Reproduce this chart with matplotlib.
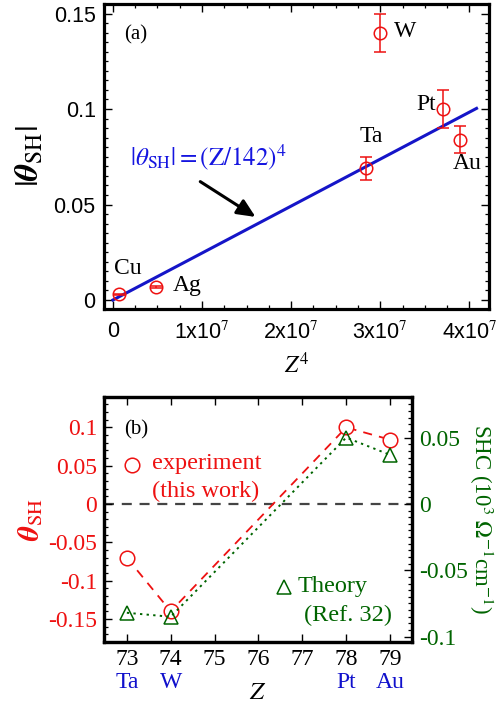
import matplotlib
matplotlib.use("Agg")
import matplotlib.pyplot as plt
from matplotlib.ticker import MultipleLocator, FixedLocator
import matplotlib.transforms as mtransforms

plt.rcParams['mathtext.fontset'] = 'stix'

# ---------------- data: panel (a) ----------------
elements_a = ['Cu', 'Ag', 'Ta', 'W', 'Pt', 'Au']
Z_a = [29, 47, 73, 74, 78, 79]
theta_a = [0.003, 0.0068, 0.069, 0.14, 0.10, 0.084]
err_a = [0.0004, 0.0005, 0.006, 0.01, 0.01, 0.007]
fit_Z4 = [0.0, 4.08e7]
fit_div = 142

# ---------------- data: panel (b) ----------------
Z_b = [73, 74, 78, 79]
elements_b = ['Ta', 'W', 'Pt', 'Au']
theta_exp = [-0.07, -0.14, 0.10, 0.084]
shc_theory = [-0.082, -0.085, 0.050, 0.037]
xticks_b = [73, 74, 75, 76, 77, 78, 79]

SERIF = ['Liberation Serif', 'DejaVu Serif']
SANS = ['Liberation Sans', 'DejaVu Sans']
RED = '#ee1111'
GREEN = '#006400'
BLUE = '#1010cc'

fig = plt.figure(figsize=(5.03, 7.04), dpi=100)

# ================= panel (a) =================
ax = fig.add_axes([0.2068, 0.5611, 0.7654, 0.4332])
Z4 = [z ** 4 for z in Z_a]
fit_theta = [x / fit_div ** 4 for x in fit_Z4]
ax.plot(fit_Z4, fit_theta, color='#1515c8', lw=2.2, zorder=2)
ax.errorbar(Z4, theta_a, yerr=err_a, fmt='o', ms=9, mfc='none', mec=RED,
            mew=1.1, ecolor=RED, elinewidth=1.1, capsize=4, capthick=1.1, zorder=3)

ax.set_xlim(-1.0e6, 4.22e7)
ax.set_ylim(-0.0047, 0.155)
ax.xaxis.set_major_locator(FixedLocator([0, 1e7, 2e7, 3e7, 4e7]))
ax.xaxis.set_minor_locator(MultipleLocator(2.5e6))
ax.yaxis.set_major_locator(FixedLocator([0, 0.05, 0.1, 0.15]))
ax.yaxis.set_minor_locator(MultipleLocator(0.005))
ax.set_xticklabels(['0', r'1x10$^{7}$', r'2x10$^{7}$', r'3x10$^{7}$', r'4x10$^{7}$'])
ax.set_yticklabels(['0', '0.05', '0.1', '0.15'])
for lab in ax.get_xticklabels() + ax.get_yticklabels():
    lab.set_family(SANS)
    lab.set_fontsize(15.5)
ax.tick_params(which='both', direction='in', top=True, right=True)
ax.tick_params(which='major', length=6, width=1.0)
ax.tick_params(axis='x', which='major', pad=9)
ax.tick_params(axis='y', which='major', pad=6)
ax.tick_params(which='minor', length=3, width=0.9)
for s in ax.spines.values():
    s.set_linewidth(2.3)

ax.set_ylabel(r'$|\boldsymbol{\theta}_{\rm SH}|$', fontsize=24, labelpad=6)
ax.text(0.5, -0.184, r'$Z^4$', transform=ax.transAxes, ha='center', va='center',
        fontsize=17)

label_pos = {'Cu': (1.7e6, 0.0165), 'Ag': (8.3e6, 0.0078), 'Ta': (2.9e7, 0.0855),
             'W': (3.28e7, 0.1405), 'Pt': (3.52e7, 0.1025), 'Au': (3.98e7, 0.0715)}
for el in elements_a:
    x, y = label_pos[el]
    ax.text(x, y, el, family=SERIF, fontsize=17, ha='center', va='center')
ax.text(2.5e6, 0.139, '(a)', family=SERIF, fontsize=15, ha='center', va='center')
ax.text(1.07e7, 0.075, r'$|\theta_{\rm SH}| = (\mathrm{Z}/142)^4$', color='#1515e0',
        fontsize=18, ha='center', va='center')
ax.annotate('', xy=(1.6e7, 0.0435), xytext=(0.98e7, 0.062),
            arrowprops=dict(arrowstyle='-|>,head_length=1.1,head_width=0.5',
                            color='black', lw=2.2, shrinkA=0, shrinkB=0))

# ================= panel (b) =================
bx = fig.add_axes([0.2068, 0.0881, 0.6123, 0.348])
bx2 = bx.twinx()

bx.axhline(0, color='#444444', lw=1.6, ls=(0, (4.5, 3.5)), zorder=1)
bx.plot(Z_b, theta_exp, color=RED, lw=1.3, ls=(0, (5, 4)), zorder=2)
bx.plot(Z_b, theta_exp, 'o', ms=10.5, mfc='white', mec=RED, mew=1.1, zorder=4)
bx2.plot(Z_b, shc_theory, color=GREEN, lw=1.4, ls=(0, (1.2, 2.2)), zorder=2)
bx2.plot(Z_b, shc_theory, '^', ms=10.5, mfc='none', mec=GREEN, mew=1.1, zorder=4)

bx.set_xlim(72.48, 79.5)
bx.set_ylim(-0.18, 0.1397)
bx2.set_ylim(-0.104, 0.0806)

bx.xaxis.set_major_locator(FixedLocator(xticks_b))
bx.set_xticklabels([str(v) for v in xticks_b])
bx.yaxis.set_major_locator(FixedLocator([-0.15, -0.1, -0.05, 0, 0.05, 0.1]))
bx.set_yticklabels(['-0.15', '-0.1', '-0.05', '0', '0.05', '0.1'])
bx.yaxis.set_minor_locator(MultipleLocator(0.01))
bx2.yaxis.set_major_locator(FixedLocator([-0.1, -0.05, 0, 0.05]))
bx2.set_yticklabels(['-0.1', '-0.05', '0', '0.05'])
bx2.yaxis.set_minor_locator(MultipleLocator(0.005))

bx.tick_params(which='both', direction='in', top=True, right=False)
bx.tick_params(which='major', length=6, width=1.0, pad=5)
bx.tick_params(which='minor', length=3, width=0.9)
bx.tick_params(axis='y', colors='black', labelcolor=RED)
bx2.tick_params(which='both', direction='in', left=False, right=True)
bx2.tick_params(which='major', length=6, width=1.0, pad=5, labelcolor=GREEN)
bx2.tick_params(which='minor', length=3, width=0.9)
for lab in bx.get_xticklabels() + bx.get_yticklabels() + bx2.get_yticklabels():
    lab.set_family(SERIF)
    lab.set_fontsize(17)
for s in list(bx.spines.values()) + list(bx2.spines.values()):
    s.set_linewidth(2.3)

bx.set_ylabel(r'$\boldsymbol{\theta}_{\rm SH}$', color=RED, fontsize=21, labelpad=2)
bx2.set_ylabel(r'SHC (10$^3$ $\Omega^{-1}$cm$^{-1}$)', color=GREEN, fontsize=16.5,
               family=SERIF, rotation=-90, labelpad=20)

trans = mtransforms.blended_transform_factory(bx.transData, bx.transAxes)
for z, el in zip(Z_b, elements_b):
    bx.text(z, -0.167, el, transform=trans, color=BLUE, family=SERIF,
            fontsize=17, ha='center', va='center')
bx.text(0.5, -0.205, r'$Z$', transform=bx.transAxes, ha='center', va='center',
        fontsize=18)

bx.text(73.22, 0.097, '(b)', family=SERIF, fontsize=15, ha='center', va='center')
bx.plot([73.11], [0.051], 'o', ms=10.5, mfc='none', mec=RED, mew=1.1)
bx.text(73.57, 0.053, 'experiment', color=RED, family=SERIF, fontsize=17.5,
        ha='left', va='center')
bx.text(73.57, 0.017, '(this work)', color=RED, family=SERIF, fontsize=17.5,
        ha='left', va='center')
bx.plot([76.58], [-0.108], '^', ms=10.5, mfc='none', mec=GREEN, mew=1.1)
bx.text(76.9, -0.107, 'Theory', color=GREEN, family=SERIF, fontsize=17.5,
        ha='left', va='center')
bx.text(79.05, -0.145, '(Ref. 32)', color=GREEN, family=SERIF, fontsize=17.5,
        ha='right', va='center')

fig.savefig('out.png', dpi=100)
